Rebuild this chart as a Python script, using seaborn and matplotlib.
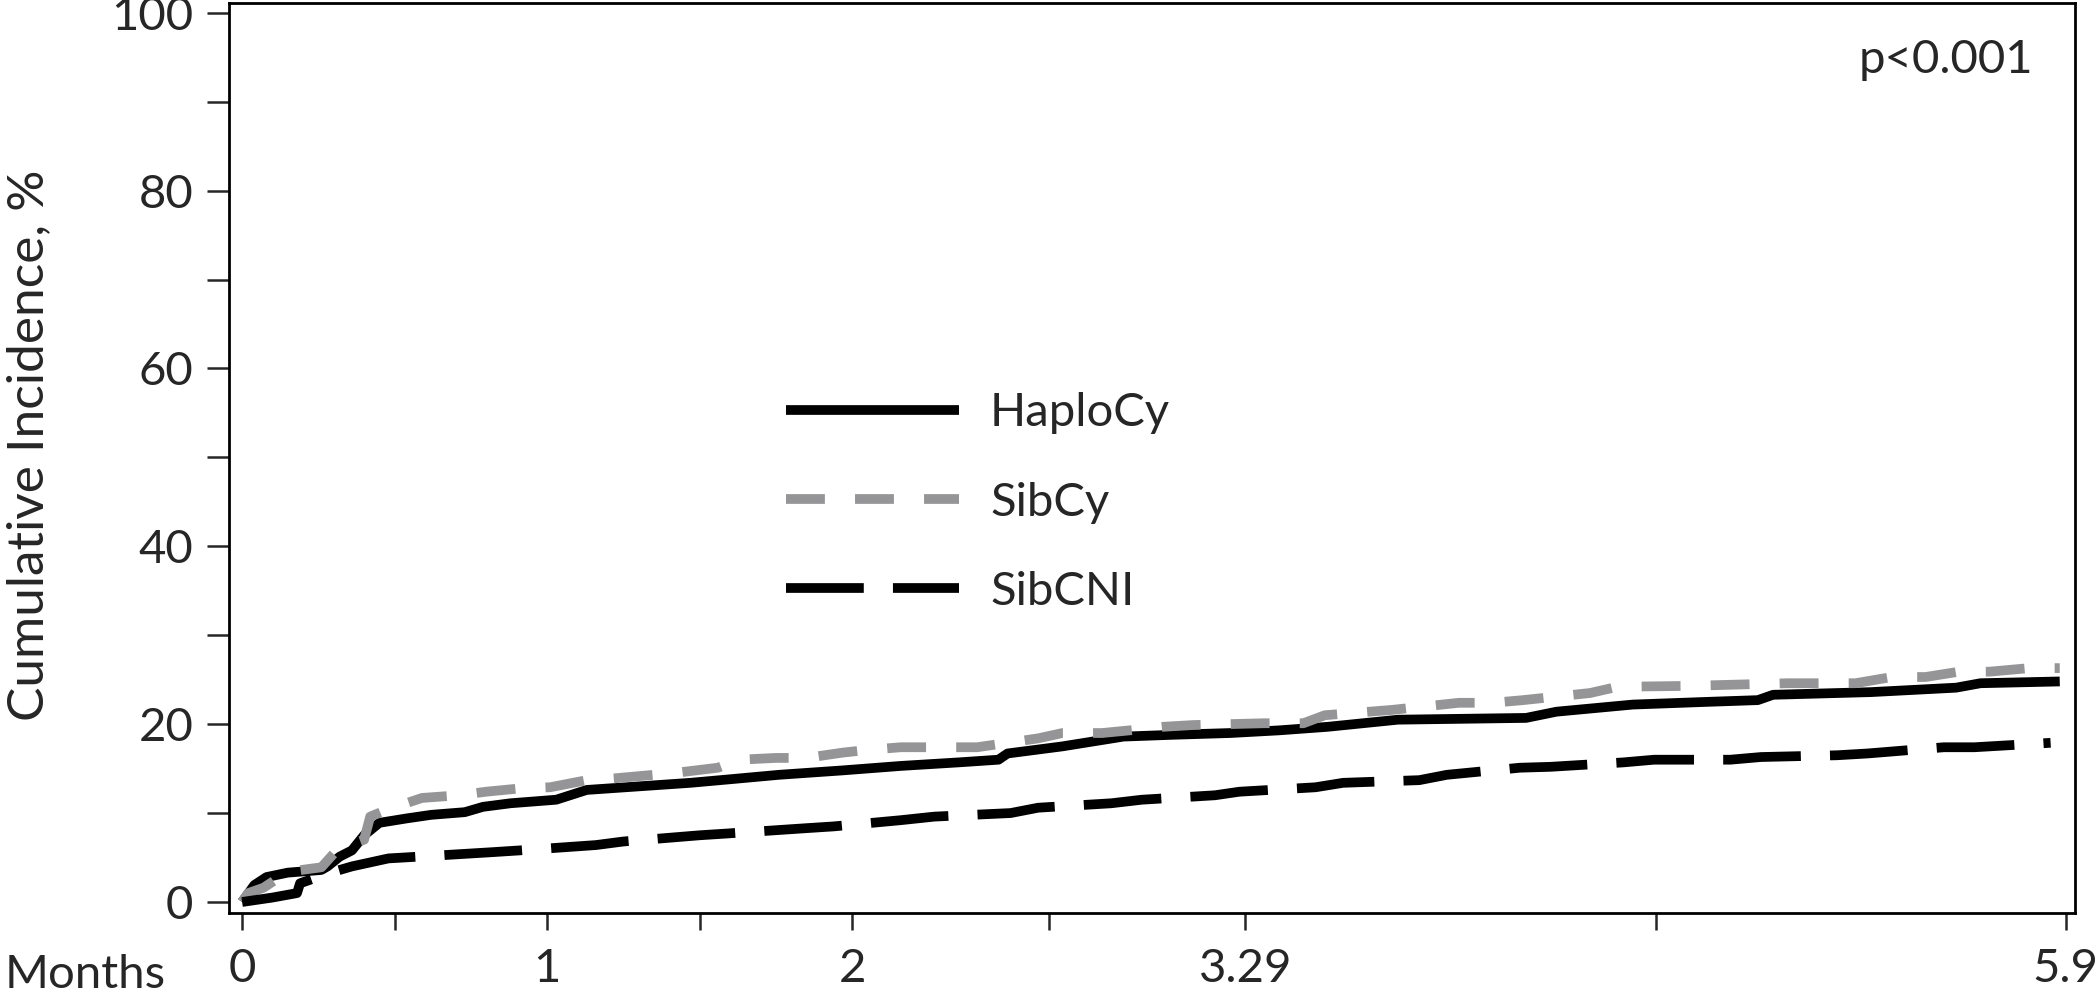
import pandas as pd
import matplotlib
matplotlib.use("Agg")
import matplotlib.pyplot as plt
import seaborn as sns

# Cumulative incidence (%) by months since transplant
haplo_t = [0, 0.04, 0.08, 0.15, 0.26, 0.28, 0.32, 0.36, 0.40, 0.45, 0.54, 0.62, 0.73,
           0.79, 0.88, 1.03, 1.13, 1.30, 1.47, 1.60, 1.76, 1.97, 2.16, 2.35, 2.48,
           2.51, 2.69, 2.89, 3.05, 3.24, 3.40, 3.56, 3.79, 4.00, 4.21, 4.31, 4.56,
           4.80, 4.97, 5.02, 5.34, 5.62, 5.70, 5.96]
haplo_v = [0, 1.9, 2.8, 3.3, 3.6, 4.0, 5.1, 5.8, 7.5, 8.9, 9.4, 9.8, 10.1,
           10.7, 11.1, 11.5, 12.6, 13.0, 13.4, 13.8, 14.3, 14.8, 15.3, 15.7, 16.0,
           16.7, 17.5, 18.6, 18.8, 19.0, 19.3, 19.7, 20.5, 20.6, 20.7, 21.4, 22.2,
           22.5, 22.7, 23.3, 23.6, 24.1, 24.6, 24.8]

sibcy_t = [0, 0.02, 0.07, 0.15, 0.26, 0.31, 0.36, 0.40, 0.42, 0.47, 0.52, 0.59, 0.71,
           0.80, 0.92, 1.01, 1.13, 1.22, 1.35, 1.44, 1.56, 1.63, 1.75, 1.85, 1.97,
           2.05, 2.16, 2.41, 2.51, 2.61, 2.69, 2.82, 2.91, 3.02, 3.12, 3.35, 3.48,
           3.55, 3.77, 3.99, 4.10, 4.20, 4.42, 4.51, 4.74, 5.07, 5.29, 5.41, 5.52,
           5.63, 5.73, 5.86, 5.96]
sibcy_v = [0, 1.0, 1.6, 3.4, 3.9, 5.8, 6.5, 7.0, 9.6, 10.3, 10.9, 11.7, 12.0,
           12.4, 12.8, 12.9, 13.7, 13.9, 14.3, 14.6, 15.1, 16.0, 16.2, 16.2, 16.8,
           17.1, 17.4, 17.4, 17.9, 18.4, 19.0, 19.0, 19.3, 19.7, 19.9, 20.1, 20.1,
           21.0, 21.6, 22.4, 22.4, 22.7, 23.5, 24.2, 24.3, 24.6, 24.6, 25.3, 25.3,
           25.9, 25.9, 26.3, 26.3]

sibcni_t = [0, 0.10, 0.18, 0.19, 0.29, 0.36, 0.48, 0.58, 0.82, 0.91, 1.16, 1.25, 1.50,
            1.59, 1.85, 1.94, 2.16, 2.27, 2.52, 2.61, 2.85, 2.95, 3.19, 3.27, 3.52,
            3.61, 3.86, 3.95, 4.19, 4.29, 4.53, 4.63, 4.88, 4.98, 5.23, 5.33, 5.58,
            5.68, 5.93]
sibcni_v = [0, 0.5, 1.0, 2.1, 3.3, 4.0, 4.9, 5.1, 5.6, 5.8, 6.4, 6.8, 7.5,
            7.7, 8.3, 8.5, 9.2, 9.6, 10.0, 10.6, 11.1, 11.5, 12.0, 12.4, 12.9,
            13.4, 13.7, 14.3, 15.1, 15.2, 15.7, 16.0, 16.0, 16.3, 16.5, 16.7, 17.4,
            17.4, 17.9]

groups = ["HaploCy", "SibCy", "SibCNI"]
x_ticks = [0, 0.5, 1, 1.5, 2, 2.645, 3.29, 4.635, 5.98]
x_labels = ["0", "", "1", "", "2", "", "3.29", "", "5.9"]
y_ticks = [0, 10, 20, 30, 40, 50, 60, 70, 80, 90, 100]
y_labels = ["0", "", "20", "", "40", "", "60", "", "80", "", "100"]

df = pd.concat([
    pd.DataFrame({"months": haplo_t, "ci": haplo_v, "group": "HaploCy"}),
    pd.DataFrame({"months": sibcy_t, "ci": sibcy_v, "group": "SibCy"}),
    pd.DataFrame({"months": sibcni_t, "ci": sibcni_v, "group": "SibCNI"}),
])

sns.set_style("ticks")
plt.rcParams['font.family'] = ['Lato', 'DejaVu Sans']

# dash lengths are in units of line width
styles = {
    "HaploCy": dict(color="black", linestyle="-"),
    "SibCy": dict(color="#959597", linestyle=(0, (4.0, 3.1))),
    "SibCNI": dict(color="black", linestyle=(0, (8.0, 3.0))),
}

fig = plt.figure(figsize=(21, 9.96), dpi=100)
ax = fig.add_axes([229 / 2100, 1 - 913 / 996, (2075 - 229) / 2100, (913 - 3) / 996])

for g in groups:
    sub = df[df["group"] == g]
    sns.lineplot(data=sub, x="months", y="ci", ax=ax, estimator=None, sort=False,
                 linewidth=7, label=g, solid_capstyle="butt", dash_capstyle="butt",
                 **styles[g])

ax.set_xlim(-0.043, 6.01)
ax.set_ylim(-1.24, 101.1)
ax.set_xticks(x_ticks)
ax.set_xticklabels(x_labels)
ax.set_yticks(y_ticks)
ax.set_yticklabels(y_labels)
ax.set_xlabel("")
ax.set_ylabel("Cumulative Incidence, %", fontsize=37)
ax.yaxis.set_label_coords(-0.096, 0.514)

for side in ["left", "right", "top", "bottom"]:
    ax.spines[side].set_visible(True)
    ax.spines[side].set_linewidth(2.0)
    ax.spines[side].set_color("black")

ax.tick_params(axis="y", direction="out", length=15.8, width=1.8, labelsize=34, pad=10)
ax.tick_params(axis="x", direction="out", length=12.2, width=1.8, labelsize=34, pad=13)

ax.text(-0.1215, -0.068, "Months", transform=ax.transAxes, fontsize=34,
        ha="left", va="center")
ax.text(0.9773, 0.923, "p<0.001", transform=ax.transAxes, fontsize=34,
        ha="right", va="baseline")

handles, labels = ax.get_legend_handles_labels()
leg = ax.legend(handles, labels, loc="center left", bbox_to_anchor=(0.302, 0.451),
                frameon=False, fontsize=34, handlelength=3.65, handletextpad=0.66,
                labelspacing=1.0, borderpad=0, borderaxespad=0)
for line in leg.get_lines():
    line.set_linewidth(7)

fig.savefig("out.png", dpi=100)
